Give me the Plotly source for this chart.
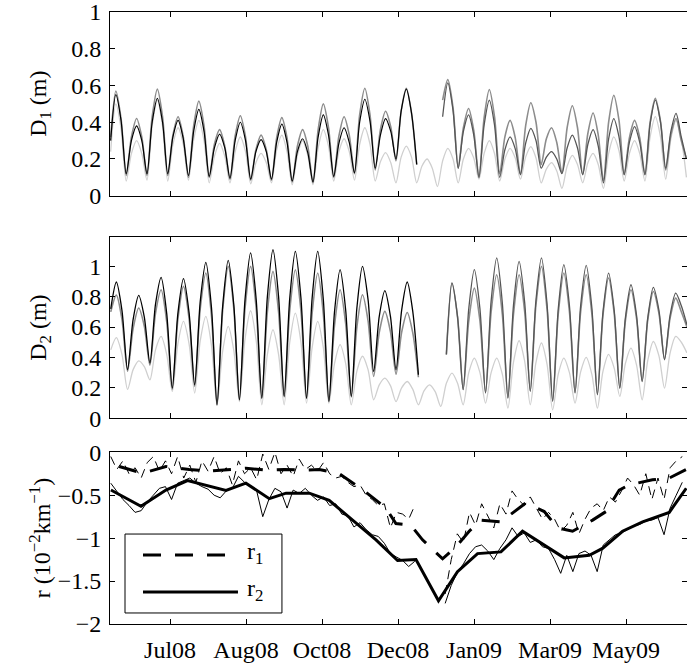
import plotly.graph_objects as go

N = None
FONT = "Times New Roman, Liberation Serif, Times, serif"

# ---- x axis: days since 2008-06-01, ticks every 50 days ----
tick_days = [40, 90, 140, 190, 240, 290, 340]
tick_labels = ["Jul08", "Aug08", "Oct08", "Dec08", "Jan09", "Mar09", "May09"]

# sample times (days) for the D1 panel (4 samples per 13.66-day cycle)
d1_days = [round(0.94 + 3.4125 * i, 3) for i in range(112)]
# sample times (days) for the D2 panel (4 samples per 14.72-day cycle)
d2_days = [round(1.0 + 3.68 * i, 3) for i in range(104)]
# sample times (days) for the thin r series
r_days = [1 + 4 * j for j in range(95)]

# ---- D1 panel ----
d1_obs = [0.30, 0.55, 0.41, 0.12, 0.30, 0.38, 0.30, 0.12, 0.40, 0.53, 0.40, 0.12,
          0.32, 0.41, 0.31, 0.11, 0.35, 0.47, 0.35, 0.105, 0.26, 0.335, 0.26, 0.095,
          0.30, 0.40, 0.30, 0.09, 0.24, 0.305, 0.24, 0.09, 0.29, 0.39, 0.29, 0.08,
          0.24, 0.31, 0.235, 0.075, 0.32, 0.44, 0.33, 0.105, 0.285, 0.37, 0.29, 0.125,
          0.40, 0.525, 0.405, 0.15, 0.33, 0.42, 0.35, 0.20, 0.46, 0.58, 0.45, 0.17] + [N] * 52
d1_obs2 = [N] * 64 + [0.43, 0.614, 0.465, 0.15, 0.35, 0.44, 0.33, 0.10,
                      0.385, 0.52, 0.385, 0.10, 0.25, 0.32, 0.255, 0.115,
                      0.285, 0.367, 0.30, 0.15, 0.21, 0.24, 0.20, 0.12,
                      0.26, 0.33, 0.26, 0.115, 0.28, 0.36, 0.27, 0.07,
                      0.31, 0.42, 0.32, 0.115, 0.29, 0.376, 0.29, 0.115,
                      0.39, 0.52, 0.40, 0.15, 0.35, 0.448, 0.32, 0.20]
d1_modA = [0.32, 0.57, 0.42, 0.11, 0.32, 0.42, 0.32, 0.11, 0.43, 0.58, 0.43, 0.11,
           0.33, 0.43, 0.32, 0.10, 0.38, 0.515, 0.38, 0.10, 0.28, 0.36, 0.27, 0.09,
           0.325, 0.435, 0.32, 0.085, 0.25, 0.33, 0.25, 0.085, 0.315, 0.425, 0.315, 0.075,
           0.27, 0.36, 0.27, 0.07, 0.36, 0.50, 0.37, 0.10, 0.325, 0.43, 0.33, 0.12,
           0.44, 0.585, 0.44, 0.14, 0.36, 0.46, 0.375, 0.19, 0.46, 0.585, 0.45, 0.17,
           N, N, N, N,
           0.52, 0.632, 0.48, 0.15, 0.37, 0.475, 0.355, 0.10, 0.425, 0.578, 0.43, 0.12,
           0.32, 0.41, 0.315, 0.115, 0.38, 0.506, 0.40, 0.17, 0.31, 0.37, 0.29, 0.123,
           0.37, 0.49, 0.37, 0.115, 0.34, 0.45, 0.33, 0.08, 0.40, 0.547, 0.41, 0.115,
           0.315, 0.41, 0.315, 0.115, 0.40, 0.53, 0.405, 0.14, 0.33, 0.42, 0.30, 0.20]
d1_modB = [0.24, 0.50, 0.365, 0.08, 0.23, 0.30, 0.23, 0.085, 0.38, 0.52, 0.38, 0.08,
           0.28, 0.37, 0.28, 0.085, 0.305, 0.41, 0.30, 0.07, 0.215, 0.285, 0.215, 0.07,
           0.24, 0.32, 0.24, 0.065, 0.18, 0.23, 0.18, 0.07, 0.25, 0.33, 0.24, 0.06,
           0.22, 0.30, 0.22, 0.06, 0.26, 0.36, 0.27, 0.08, 0.24, 0.31, 0.24, 0.085,
           0.28, 0.37, 0.28, 0.08, 0.185, 0.235, 0.18, 0.07, 0.21, 0.27, 0.21, 0.07,
           0.16, 0.20, 0.15, 0.05, 0.19, 0.258, 0.20, 0.07, 0.20, 0.258, 0.205, 0.09,
           0.23, 0.30, 0.23, 0.08, 0.20, 0.258, 0.205, 0.09, 0.21, 0.267, 0.205, 0.07,
           0.145, 0.18, 0.135, 0.04, 0.16, 0.22, 0.17, 0.07, 0.18, 0.23, 0.17, 0.04,
           0.23, 0.32, 0.245, 0.08, 0.23, 0.30, 0.23, 0.08, 0.32, 0.43, 0.32, 0.09,
           0.31, 0.41, 0.31, 0.10]

# ---- D2 panel ----
d2_obs = [0.72, 0.896, 0.71, 0.32, 0.65, 0.808, 0.665, 0.363, 0.75, 0.927, 0.69, 0.198,
          0.69, 0.918, 0.695, 0.22, 0.77, 1.025, 0.73, 0.09, 0.735, 1.038, 0.745, 0.122,
          0.78, 1.087, 0.78, 0.133, 0.80, 1.108, 0.80, 0.144, 0.79, 1.097, 0.79, 0.133,
          0.79, 1.097, 0.78, 0.111, 0.70, 0.977, 0.71, 0.144, 0.725, 0.999, 0.78, 0.308,
          0.67, 0.839, 0.67, 0.319, 0.71, 0.896, 0.70, 0.286] + [N] * 48
d2_obs2 = [N] * 60 + [0.42, 0.889, 0.665, 0.188, 0.72, 0.977, 0.72, 0.166,
                      0.77, 1.054, 0.76, 0.133, 0.745, 1.032, 0.76, 0.177,
                      0.77, 1.054, 0.75, 0.111, 0.72, 1.01, 0.74, 0.166,
                      0.74, 1.005, 0.73, 0.155, 0.70, 0.955, 0.71, 0.198,
                      0.66, 0.878, 0.675, 0.242, 0.66, 0.861, 0.71, 0.385,
                      0.68, 0.823, 0.74, 0.615]
d2_modA = [0.70, 0.81, 0.65, 0.31, 0.59, 0.725, 0.605, 0.35, 0.69, 0.845, 0.635, 0.19,
           0.65, 0.867, 0.655, 0.21, 0.72, 0.955, 0.675, 0.085, 0.705, 0.999, 0.72, 0.12,
           0.72, 0.999, 0.72, 0.13, 0.70, 0.966, 0.70, 0.14, 0.71, 0.977, 0.705, 0.13,
           0.69, 0.955, 0.685, 0.11, 0.61, 0.845, 0.62, 0.14, 0.60, 0.812, 0.64, 0.275,
           0.565, 0.703, 0.57, 0.29, 0.565, 0.696, 0.56, 0.27,
           N, N, N, N,
           0.42, 0.889, 0.665, 0.19, 0.64, 0.856, 0.64, 0.17, 0.70, 0.944, 0.685, 0.135,
           0.685, 0.944, 0.70, 0.18, 0.74, 0.999, 0.715, 0.115, 0.685, 0.955, 0.70, 0.17,
           0.70, 0.944, 0.69, 0.16, 0.68, 0.922, 0.69, 0.20, 0.64, 0.845, 0.655, 0.245,
           0.645, 0.834, 0.69, 0.39, 0.66, 0.79, 0.70, 0.60]
d2_modB = [0.45, 0.53, 0.42, 0.19, 0.32, 0.378, 0.34, 0.253, 0.45, 0.538, 0.42, 0.177,
           0.49, 0.637, 0.49, 0.166, 0.51, 0.67, 0.48, 0.089, 0.44, 0.604, 0.445, 0.11,
           0.52, 0.707, 0.51, 0.089, 0.42, 0.582, 0.42, 0.089, 0.50, 0.692, 0.50, 0.10,
           0.465, 0.637, 0.465, 0.10, 0.36, 0.484, 0.36, 0.089, 0.31, 0.408, 0.32, 0.122,
           0.22, 0.264, 0.215, 0.11, 0.20, 0.242, 0.19, 0.089, 0.18, 0.22, 0.175, 0.078,
           0.23, 0.297, 0.23, 0.089, 0.30, 0.396, 0.30, 0.10, 0.30, 0.396, 0.29, 0.067,
           0.37, 0.51, 0.375, 0.089, 0.365, 0.495, 0.355, 0.056, 0.29, 0.396, 0.30, 0.10,
           0.305, 0.40, 0.29, 0.067, 0.31, 0.42, 0.33, 0.144, 0.36, 0.462, 0.35, 0.122,
           0.38, 0.505, 0.41, 0.198, 0.43, 0.538, 0.50, 0.43]

# ---- r panel ----
r1_thin = [-0.05, -0.20, -0.10, -0.25, -0.18, -0.30, -0.12, -0.05, -0.22, -0.10,
           -0.25, -0.05, -0.30, -0.15, -0.35, -0.10, -0.22, -0.05, -0.25, -0.18,
           -0.38, -0.10, -0.25, -0.18, -0.32, -0.02, -0.20, 0.00, -0.25, -0.15,
           -0.28, -0.08, -0.20, -0.15, -0.22, -0.12, -0.25, -0.30, -0.28, -0.35,
           -0.40, -0.38, -0.50, -0.55, -0.62, -0.60, -0.88, -0.70, -0.72, -0.78,
           -0.62, N, N, N, N, -1.65, -1.25, -0.95, -1.05, -0.70,
           -0.85, -0.60, -0.75, -0.88, -0.60, -0.72, -0.45, -0.55, -0.62, -0.52,
           -0.65, -0.78, -0.70, -0.78, -0.92, -0.85, -0.70, -0.95, -0.78, -0.65,
           -0.60, -0.68, -0.52, -0.58, -0.45, -0.30, -0.38, -0.50, -0.25, -0.55,
           -0.30, -0.55, -0.18, -0.10, -0.05]
r2_thin = [-0.36, -0.45, -0.55, -0.62, -0.70, -0.68, -0.58, -0.50, -0.42, -0.40,
           -0.55, -0.36, -0.33, -0.30, -0.36, -0.40, -0.43, -0.50, -0.53, -0.45,
           -0.42, -0.28, -0.35, -0.40, -0.45, -0.75, -0.55, -0.42, -0.46, -0.65,
           -0.44, -0.48, -0.42, -0.50, -0.56, -0.52, -0.62, -0.60, -0.72, -0.74,
           -0.87, -0.82, -0.90, -0.96, -0.98, -1.06, -1.18, -1.22, -1.26, -1.33,
           -1.27, N, N, N, N, -1.76, -1.55, -1.40, -1.30, -1.18,
           -1.10, -1.08, -1.15, -1.25, -1.12, -1.02, -0.88, -0.98, -0.94, -1.05,
           -1.02, -1.10, -1.12, -1.25, -1.41, -1.20, -1.39, -1.18, -1.15, -1.20,
           -1.39, -1.08, -1.02, -0.96, -0.94, -0.90, -0.86, -0.84, -0.80, -0.79,
           -0.76, -0.96, -0.65, -0.50, -0.35]
r1_days = [6.6, 21.9, 37.3, 52.6, 65.8, 78.9, 89.9, 103.9, 115.1, 129.4, 138.2, 151.3,
           167.8, 182.0, 188.6, 198.5, 206.1, 219.3, 228.1, 236.8, 244.5, 257.7, 266.4,
           274.1, 286.2, 294.9, 304.8, 318.0, 326.8, 335.5, 342.1, 357.4, 368.4, 379.6]
r1_fit = [-0.165, -0.245, -0.165, -0.20, -0.22, -0.20, -0.185, -0.21, -0.20, -0.21, -0.20,
          -0.25, -0.45, -0.65, -0.83, -0.85, -1.02, -1.24, -1.10, -0.92, -0.79, -0.81,
          -0.69, -0.59, -0.69, -0.88, -0.92, -0.79, -0.69, -0.44, -0.38, -0.32, -0.30, -0.20]
r2_days = [1.1, 20.9, 37.3, 51.5, 76.8, 89.9, 105.3, 116.3, 131.6, 144.7, 160.1, 175.5,
           189.7, 201.8, 216.6, 229.1, 242.3, 257.7, 271.9, 299.3, 315.8, 324.5, 337.7,
           350.9, 368.4, 379.6]
r2_fit = [-0.44, -0.63, -0.44, -0.33, -0.445, -0.36, -0.54, -0.476, -0.476, -0.56, -0.79,
          -1.02, -1.26, -1.25, -1.73, -1.39, -1.18, -1.16, -0.92, -1.23, -1.20, -1.12,
          -0.92, -0.81, -0.70, -0.42]

fig = go.Figure()


def osc(x, y, color, width, xa, ya):
    fig.add_trace(go.Scatter(x=x, y=y, mode="lines", xaxis=xa, yaxis=ya,
                             line=dict(color=color, width=width, shape="spline", smoothing=0.8),
                             connectgaps=False, showlegend=False, hoverinfo="skip"))


LIGHT, MID, DARK = "#cfcfcf", "#8c8c8c", "#555555"
osc(d1_days, d1_modB, LIGHT, 1.3, "x", "y")
osc(d1_days, d1_modA, MID, 1.6, "x", "y")
osc(d1_days, d1_obs, "black", 1.2, "x", "y")
osc(d1_days, d1_obs2, DARK, 1.3, "x", "y")

osc(d2_days, d2_modB, LIGHT, 1.3, "x2", "y2")
osc(d2_days, d2_modA, MID, 1.6, "x2", "y2")
osc(d2_days, d2_obs, "black", 1.3, "x2", "y2")
osc(d2_days, d2_obs2, DARK, 1.3, "x2", "y2")


def lin(x, y, width, dash, xa="x3", ya="y3"):
    fig.add_trace(go.Scatter(x=x, y=y, mode="lines", xaxis=xa, yaxis=ya,
                             line=dict(color="black", width=width, dash=dash),
                             connectgaps=False, showlegend=False, hoverinfo="skip"))


lin(r_days, r1_thin, 1, "9px,6px")
lin(r_days, r2_thin, 1, "solid")
lin(r1_days, r1_fit, 3, "18px,14px")
lin(r2_days, r2_fit, 3, "solid")

TICKFONT = dict(family=FONT, size=24, color="black")
XR = [0.5, 380.1]
common_x = dict(range=XR, tickvals=tick_days, ticktext=tick_labels, ticks="inside",
                ticklen=5, tickcolor="black", showline=True, linecolor="black",
                linewidth=1, mirror="ticks", showgrid=False, zeroline=False,
                tickfont=TICKFONT, ticklabeloverflow="allow", automargin=False)
common_y = dict(ticks="inside", ticklen=5, tickcolor="black", showline=True,
                linecolor="black", linewidth=1, mirror="ticks", showgrid=False,
                zeroline=False, tickfont=TICKFONT, ticklabeloverflow="allow",
                automargin=False, ticklabelstandoff=3)

d_ticks = [0, 0.2, 0.4, 0.6, 0.8, 1]
d_tick_text = ["0", "0.2", "0.4", "0.6", "0.8", "1"]
r_ticks = [-2, -1.5, -1, -0.5, 0]
r_tick_text = ["\u22122", "\u22121.5", "\u22121", "\u22120.5", "0"]

fig.update_layout(
    template="none",
    width=687, height=666,
    margin=dict(l=110, r=0, t=12, b=42, autoexpand=False),
    paper_bgcolor="white", plot_bgcolor="white",
    font=dict(family=FONT, size=24, color="black"),
    showlegend=False,
    xaxis=dict(domain=[0, 1], anchor="y", showticklabels=False, **common_x),
    xaxis2=dict(domain=[0, 1], anchor="y2", showticklabels=False, **common_x),
    xaxis3=dict(domain=[0, 1], anchor="y3", showticklabels=True, ticklabelstandoff=4,
                **common_x),
    yaxis=dict(domain=[0.6998, 1], anchor="x", range=[0, 1], tickvals=d_ticks,
               ticktext=d_tick_text, **common_y),
    yaxis2=dict(domain=[0.3361, 0.6319], anchor="x2", range=[0, 1.19], tickvals=d_ticks,
                ticktext=d_tick_text, **common_y),
    yaxis3=dict(domain=[0, 0.2806], anchor="x3", range=[-2, 0], tickvals=r_ticks,
                ticktext=r_tick_text, **common_y),
)

# y-axis titles
for txt, yr in [("D<sub>1</sub> (m)", "y domain"), ("D<sub>2</sub> (m)", "y2 domain"),
                ("r (10<sup>\u22122</sup>km<sup>\u22121</sup>)", "y3 domain")]:
    fig.add_annotation(text=txt, xref="paper", yref=yr, x=-0.1213, y=0.5,
                       xanchor="center", yanchor="middle", textangle=-90,
                       showarrow=False, font=dict(family=FONT, size=24, color="black"))

# legend box (drawn manually to match the long line samples)
fig.add_shape(type="rect", xref="paper", yref="paper", x0=0.026, x1=0.298, y0=0.018,
              y1=0.147, line=dict(color="black", width=1), fillcolor="white")
fig.add_shape(type="line", xref="paper", yref="paper", x0=0.0572, x1=0.2218, y0=0.1127,
              y1=0.1127, line=dict(color="black", width=3, dash="18px,14px"))
fig.add_shape(type="line", xref="paper", yref="paper", x0=0.0572, x1=0.2218, y0=0.0523,
              y1=0.0523, line=dict(color="black", width=3))
fig.add_annotation(text="r<sub>1</sub>", xref="paper", yref="paper", x=0.234, y=0.116,
                   xanchor="left", yanchor="middle", showarrow=False,
                   font=dict(family=FONT, size=24, color="black"))
fig.add_annotation(text="r<sub>2</sub>", xref="paper", yref="paper", x=0.234, y=0.0556,
                   xanchor="left", yanchor="middle", showarrow=False,
                   font=dict(family=FONT, size=24, color="black"))

# remove the browser's default 8 px page margin so the figure fills the window exactly
fig.write_html("out.html",
               config={"displayModeBar": False, "staticPlot": True},
               post_script="document.body.style.margin='0px';document.body.style.overflow='hidden';")
